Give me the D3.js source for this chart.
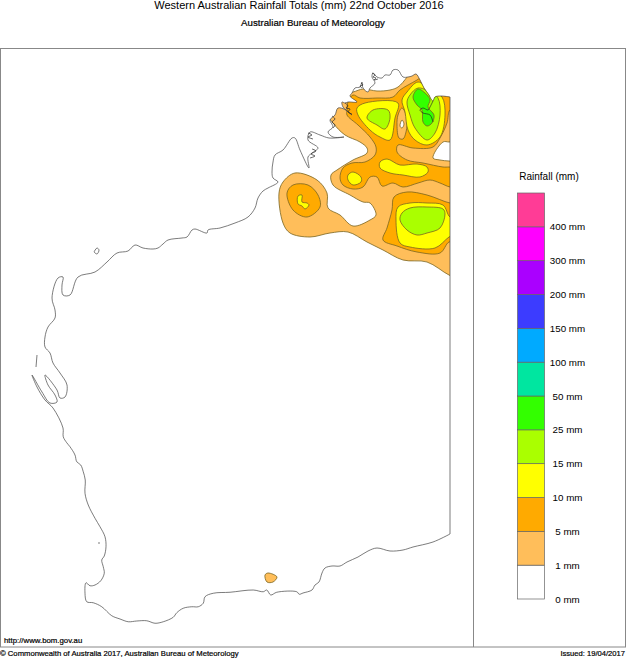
<!DOCTYPE html>
<html>
<head>
<meta charset="utf-8">
<script src="https://cdn.jsdelivr.net/npm/d3@7"></script>
<style>
body { margin: 0; background: #fff; }
text { font-family: "Liberation Sans", Arial, sans-serif; fill: #000; }
.heavy { stroke: #000; stroke-width: 0.2; }
</style>
</head>
<body>
<svg id="chart" width="626" height="658"></svg>
<script>
// legend
const levels = ["0 mm","1 mm","5 mm","10 mm","15 mm","25 mm","50 mm","100 mm","150 mm","200 mm","300 mm","400 mm"];
const bandColors = ["#ffffff","#ffbe5a","#ffaa00","#ffff00","#aaff00","#33ff00","#00e6a0","#00aaff","#3c3cff","#aa00ff","#ff00ff","#ff3c96"];

// WA coastline, north east round to the south east, [lon, lat]
const coast = [[129.00,-12.96],[128.64,-12.92],[128.40,-12.96],[128.32,-13.12],[128.24,-13.04],[128.16,-12.88],[127.96,-12.60],[127.80,-12.28],[127.64,-12.04],[127.48,-12.12],[127.32,-12.16],[127.12,-12.16],[126.92,-11.88],[126.72,-11.88],[126.60,-12.08],[126.40,-12.08],[126.28,-12.20],[126.08,-12.16],[125.92,-12.00],[125.88,-12.16],[126.00,-12.40],[125.80,-12.60],[125.72,-12.76],[125.52,-12.60],[125.48,-12.36],[125.40,-12.56],[125.20,-12.60],[125.08,-12.80],[125.00,-12.92],[125.28,-13.16],[124.92,-13.16],[124.80,-13.20],[124.68,-13.16],[124.72,-13.36],[125.08,-13.68],[124.84,-13.48],[124.52,-13.40],[124.40,-13.68],[124.20,-13.88],[124.32,-14.16],[124.12,-14.36],[124.32,-14.56],[124.76,-14.56],[124.16,-14.60],[123.80,-14.48],[123.40,-14.36],[123.32,-14.68],[123.72,-15.00],[123.48,-15.20],[123.32,-15.36],[123.36,-15.80],[123.00,-15.08],[122.80,-14.60],[122.68,-14.60],[122.32,-15.08],[122.00,-15.28],[121.92,-15.56],[121.88,-15.96],[121.92,-16.20],[122.12,-16.36],[121.72,-16.60],[121.52,-16.72],[121.32,-17.00],[121.20,-17.40],[120.92,-17.76],[120.40,-18.00],[119.80,-18.20],[119.32,-18.28],[119.28,-18.40],[118.80,-18.24],[118.68,-18.28],[118.48,-18.56],[118.28,-18.60],[117.72,-18.68],[117.52,-18.84],[117.32,-19.00],[117.12,-19.04],[116.72,-19.00],[116.40,-18.88],[116.12,-19.12],[115.68,-19.20],[115.28,-19.56],[114.80,-19.96],[114.12,-20.16],[113.80,-20.88],[113.52,-20.88],[113.48,-20.48],[113.52,-20.16],[113.32,-20.20],[113.08,-21.00],[113.20,-21.48],[113.20,-21.80],[112.92,-22.16],[112.80,-22.56],[112.80,-22.96],[113.00,-23.20],[113.12,-23.60],[113.40,-24.00],[113.68,-24.48],[113.60,-24.96],[113.40,-25.00],[113.28,-24.68],[112.80,-24.08],[112.92,-24.48],[113.20,-24.88],[113.28,-25.16],[113.00,-25.20],[112.68,-24.76],[112.28,-24.08],[112.48,-24.56],[112.80,-25.08],[113.12,-25.40],[113.52,-26.20],[113.53,-26.55],[113.67,-26.79],[113.80,-26.95],[114.00,-27.28],[114.07,-27.55],[114.23,-27.68],[114.33,-27.95],[114.41,-28.28],[114.40,-28.81],[114.53,-29.28],[114.80,-29.81],[115.00,-30.15],[115.20,-30.55],[115.24,-30.95],[115.17,-31.32],[115.07,-31.48],[115.13,-31.75],[115.17,-32.01],[115.03,-32.31],[114.80,-32.48],[114.60,-32.51],[114.44,-32.39],[114.40,-32.81],[114.47,-33.15],[114.73,-33.19],[115.07,-33.35],[115.47,-33.71],[115.80,-33.84],[116.13,-33.95],[116.47,-33.92],[116.87,-33.91],[117.20,-34.01],[117.53,-33.95],[117.93,-33.77],[118.07,-33.59],[118.33,-33.41],[118.67,-33.35],[118.93,-33.35],[119.13,-33.21],[119.20,-32.95],[119.53,-32.81],[120.20,-32.77],[121.13,-32.68],[121.53,-32.75],[121.67,-32.68],[121.83,-32.88],[122.07,-32.77],[122.87,-32.75],[122.97,-32.85],[123.12,-32.80],[123.48,-32.68],[123.60,-32.48],[123.76,-32.36],[123.88,-32.00],[124.00,-31.80],[124.28,-31.72],[124.60,-31.72],[124.88,-31.56],[125.32,-31.36],[125.72,-31.12],[126.08,-31.00],[126.60,-31.12],[127.12,-31.08],[127.52,-30.96],[128.32,-30.76],[129.00,-30.44]];
const islandBarrow = [[114.76,-19.16],[114.88,-19.00],[114.96,-19.08],[114.88,-19.24],[114.76,-19.16]];
const islandBernier = [[112.48,-23.28],[112.44,-23.76]];
const islandRottnest = [[114.92,-30.80],[115.00,-30.80]];
// Cambridge Gulf, a thin line through the green
const gulf = [[128.32,-13.12],[128.20,-13.36],[128.12,-13.48],[127.92,-13.40],[127.80,-13.48],[127.92,-13.60],[128.20,-13.68],[128.32,-13.96]];
// crinkles of the Kimberley coast
const crinkles = [
    [[125.88,-12.00],[126.00,-12.08],[125.92,-12.16],[126.04,-12.20],[125.96,-12.28],[126.12,-12.24]],
    [[125.44,-12.40],[125.52,-12.48],[125.40,-12.52],[125.48,-12.60]],
    [[124.80,-13.20],[124.92,-13.32],[124.84,-13.40],[125.00,-13.44],[124.92,-13.56],[125.08,-13.64]],
    [[124.28,-13.72],[124.40,-13.84],[124.28,-13.96],[124.40,-14.08],[124.32,-14.20]],
    [[123.32,-14.40],[123.48,-14.48],[123.32,-14.56],[123.52,-14.64]],
    [[123.48,-15.04],[123.64,-15.12],[123.44,-15.24],[123.60,-15.32],[123.40,-15.40]]
];

// rainfall contours, [lon, lat], painted in this order
const band1Main = [[129.32,-20.20],[128.96,-20.08],[128.08,-19.56],[127.12,-19.48],[126.32,-19.08],[125.68,-18.76],[124.92,-18.36],[124.20,-18.40],[123.40,-18.56],[122.60,-18.40],[122.32,-18.00],[122.16,-16.80],[122.32,-16.36],[122.80,-16.00],[123.68,-16.28],[124.08,-16.80],[124.12,-17.40],[124.60,-17.68],[125.12,-18.12],[125.80,-17.88],[126.04,-17.68],[125.80,-17.20],[125.52,-17.16],[125.00,-16.88],[124.32,-16.48],[124.24,-16.08],[124.48,-15.88],[125.12,-15.48],[125.68,-15.20],[125.68,-15.00],[125.40,-14.76],[124.80,-14.48],[124.32,-14.00],[124.00,-13.48],[124.40,-12.88],[125.12,-12.76],[125.52,-12.64],[126.08,-12.72],[126.60,-12.68],[126.92,-12.56],[127.28,-12.16],[127.48,-11.80],[128.60,-11.88],[129.32,-12.68]];
const band1Eucla = [[121.60,-32.08],[121.72,-32.00],[122.08,-32.16],[121.92,-32.36],[121.68,-32.36]];
const band5Main = [[129.32,-12.68],[128.20,-11.96],[127.68,-12.28],[127.00,-12.68],[126.72,-12.96],[126.08,-13.00],[125.40,-13.00],[125.12,-12.88],[124.92,-13.16],[124.88,-13.48],[124.88,-13.68],[125.32,-14.08],[125.80,-14.56],[126.04,-14.96],[126.00,-15.28],[125.60,-15.56],[125.08,-15.60],[124.72,-15.80],[124.60,-16.20],[124.72,-16.48],[125.12,-16.64],[125.52,-16.56],[125.80,-16.16],[126.08,-16.16],[126.28,-16.52],[126.72,-16.40],[127.12,-16.56],[127.72,-16.40],[128.20,-16.28],[128.60,-16.40],[129.00,-16.56],[129.32,-16.56]];
const band1East = [[129.00,-13.48],[128.88,-14.00],[128.60,-14.60],[128.32,-14.96],[127.52,-15.00],[126.92,-14.88],[126.88,-15.16],[127.28,-15.48],[127.92,-15.60],[128.72,-15.76],[128.96,-15.76],[129.32,-15.76],[129.32,-13.48]];
const holeEast = [[128.32,-15.40],[128.72,-14.76],[128.96,-14.76],[129.32,-14.76],[129.32,-15.52],[128.96,-15.52],[128.60,-15.48]];
const band1Oval = [[127.08,-13.40],[127.28,-13.80],[127.24,-14.36],[127.12,-14.64],[126.96,-14.60],[126.88,-14.08],[126.92,-13.68]];
const holeOval = [[127.00,-14.12],[127.08,-13.88],[127.16,-14.04],[127.08,-14.20]];
const band5South = [[126.76,-16.96],[127.28,-16.76],[128.08,-16.88],[129.00,-17.20],[129.32,-17.20],[129.32,-18.76],[128.96,-18.76],[128.60,-19.20],[127.68,-19.16],[126.88,-18.92],[126.32,-18.68],[126.48,-18.20],[126.68,-17.48]];
const band5West = [[122.48,-16.80],[122.72,-16.48],[123.32,-16.48],[123.72,-16.88],[123.80,-17.36],[123.28,-17.76],[122.72,-17.48]];
const band10East = [[127.72,-12.36],[127.28,-12.76],[127.08,-13.08],[127.20,-13.56],[127.32,-14.28],[127.60,-14.68],[128.08,-14.88],[128.60,-14.56],[128.80,-13.68],[128.68,-12.96],[128.20,-12.68]];
const band10North = [[125.28,-13.40],[125.60,-13.20],[126.92,-13.20],[126.80,-13.80],[126.60,-14.68],[126.20,-14.56],[125.80,-14.28],[125.32,-13.68]];
const band10Mid = [[126.20,-15.56],[126.48,-15.44],[127.00,-15.68],[127.68,-15.64],[128.08,-15.76],[128.12,-15.96],[127.80,-16.16],[127.12,-16.08],[126.60,-16.00],[126.20,-15.80]];
const band10Small = [[124.92,-16.08],[125.12,-15.96],[125.44,-16.16],[125.44,-16.36],[125.12,-16.48],[124.92,-16.28]];
const band10South = [[126.92,-17.36],[126.84,-17.88],[127.00,-18.80],[127.40,-18.96],[128.40,-19.00],[128.96,-18.56],[129.32,-18.36],[129.32,-17.80],[129.00,-17.76],[128.72,-17.28],[128.08,-17.20],[127.40,-17.20]];
const band10West = [[122.92,-16.92],[123.08,-16.88],[123.08,-17.16],[123.28,-17.20],[123.36,-17.28],[123.20,-17.44],[123.08,-17.32],[122.92,-17.24]];
const band15East = [[127.72,-12.60],[127.40,-12.88],[127.28,-13.16],[127.40,-13.68],[127.60,-14.20],[128.08,-14.68],[128.40,-14.40],[128.60,-13.68],[128.52,-13.00],[128.20,-12.76]];
const band15North = [[125.68,-13.80],[125.92,-13.48],[126.52,-13.48],[126.60,-13.80],[126.40,-14.24],[126.08,-14.08]];
const band15South = [[127.00,-17.88],[127.08,-17.60],[127.40,-17.40],[128.08,-17.36],[128.72,-17.44],[128.80,-17.64],[128.60,-18.20],[128.08,-18.40],[127.68,-18.48],[127.28,-18.28]];
const band25East = [[127.72,-12.64],[127.52,-12.96],[127.68,-13.28],[127.88,-13.48],[127.92,-13.96],[128.08,-14.12],[128.28,-14.00],[128.36,-13.68],[128.12,-13.36],[128.20,-13.08],[128.08,-12.88]];

const contours = [
    [1, band1Main], [1, band1Eucla],
    [2, band5Main], [1, band1East], [0, holeEast], [1, band1Oval], [0, holeOval],
    [2, band5South], [2, band5West],
    [3, band10East], [3, band10North], [3, band10Mid], [3, band10Small], [3, band10South], [3, band10West],
    [4, band15East], [4, band15North], [4, band15South],
    [5, band25East]
];

const svg = d3.select("#chart");

const x = d3.scaleLinear().domain([111, 129]).range([0, 450]);
const y = d3.scaleLinear().domain([-11, -35]).range([48, 648]);

const coastLine = d3.line().x(d => x(d[0])).y(d => y(d[1])).curve(d3.curveCatmullRom.alpha(0.5));
const contourLine = d3.line().x(d => x(d[0])).y(d => y(d[1])).curve(d3.curveCatmullRomClosed.alpha(0.5));

// contours stop at the coast and the state border
svg.append("clipPath").attr("id", "land")
    .append("path").attr("d", coastLine(coast) + "Z");

const map = svg.append("g").attr("clip-path", "url(#land)");
map.selectAll("path").data(contours).join("path")
    .attr("d", d => contourLine(d[1]))
    .attr("fill", d => bandColors[d[0]])
    .attr("stroke", "#7a6420")
    .attr("stroke-width", 0.8);

// coast
svg.append("path").attr("d", coastLine(coast) + "Z")
    .attr("fill", "none").attr("stroke", "#444").attr("stroke-width", 0.7);
[islandBarrow, islandBernier, islandRottnest].forEach(function(isl){
    svg.append("path").attr("d", coastLine(isl))
        .attr("fill", "none").attr("stroke", "#444").attr("stroke-width", 0.7);
});
[gulf].concat(crinkles).forEach(function(c){
    svg.append("path").attr("d", coastLine(c))
        .attr("fill", "none").attr("stroke", "#222").attr("stroke-width", 0.7);
});

// frame
const frame = svg.append("g").attr("stroke", "#888").attr("stroke-width", 1);
frame.append("rect").attr("x", 0.5).attr("y", 48.5).attr("width", 625).attr("height", 598.5).attr("fill", "none");
frame.append("line").attr("x1", 473.5).attr("x2", 473.5).attr("y1", 48).attr("y2", 647);

// legend
const legendY = d3.scaleLinear().domain([0, 12]).range([599, 193]);
const legend = svg.append("g");
legend.selectAll("rect").data(bandColors).join("rect")
    .attr("x", 517.5).attr("width", 27)
    .attr("y", (d, i) => legendY(i + 1))
    .attr("height", (d, i) => legendY(i) - legendY(i + 1))
    .attr("fill", d => d)
    .attr("stroke", "#666").attr("stroke-width", 0.7);
legend.selectAll("text").data(levels).join("text")
    .attr("x", 567.5).attr("y", (d, i) => legendY(i) + 3.5)
    .attr("text-anchor", "middle").attr("font-size", 9.8).text(d => d);

svg.append("text").attr("x", 549).attr("y", 180).attr("text-anchor", "middle").attr("font-size", 10).text("Rainfall (mm)");

// titles
svg.append("text").attr("x", 299).attr("y", 9).attr("text-anchor", "middle").attr("font-size", 11)
    .text("Western Australian Rainfall Totals (mm) 22nd October 2016");
svg.append("text").attr("class", "heavy").attr("x", 313).attr("y", 26).attr("text-anchor", "middle").attr("font-size", 9.7)
    .text("Australian Bureau of Meteorology");
svg.append("text").attr("class", "heavy").attr("x", 4).attr("y", 643).attr("font-size", 7.8).text("http://www.bom.gov.au");
svg.append("text").attr("class", "heavy").attr("x", 0).attr("y", 656).attr("font-size", 7.7).text("© Commonwealth of Australia 2017, Australian Bureau of Meteorology");
svg.append("text").attr("class", "heavy").attr("x", 625).attr("y", 656).attr("text-anchor", "end").attr("font-size", 7.6).text("Issued: 19/04/2017");
</script>
</body>
</html>
